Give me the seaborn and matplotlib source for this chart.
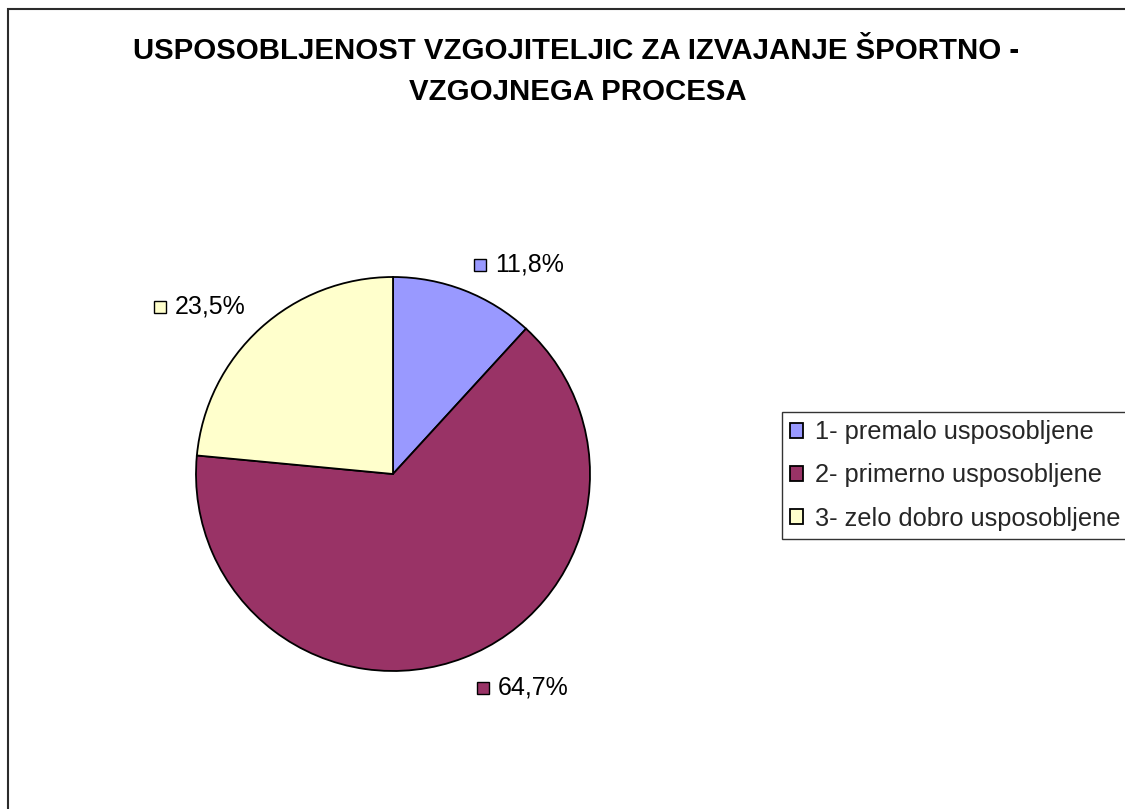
import matplotlib
matplotlib.use("Agg")
import matplotlib.pyplot as plt
import matplotlib.transforms as mtransforms
from matplotlib.patches import Rectangle
import seaborn as sns

# ---- data ----
categories = ["1- premalo usposobljene", "2- primerno usposobljene", "3- zelo dobro usposobljene"]
values = [11.8, 64.7, 23.5]
colors = ["#9999FF", "#993366", "#FFFFCC"]
title_lines = ["USPOSOBLJENOST VZGOJITELJIC ZA IZVAJANJE ŠPORTNO -", "VZGOJNEGA PROCESA"]

sns.set_theme(style="white")
plt.rcParams["font.family"] = ["Liberation Sans", "DejaVu Sans"]

W, H = 1125, 809
fig = plt.figure(figsize=(W / 100, H / 100), dpi=100)
fig.patch.set_facecolor("white")

# outer chart-area frame (cropped at right and bottom)
fig.add_artist(Rectangle((8 / W, -0.1), 1.2, (H - 9) / H + 0.1, transform=fig.transFigure,
                         fill=False, edgecolor="#2b2b2b", linewidth=1.5))

# title
fig.text(576 / W, 1 - 51 / H, title_lines[0], ha="center", va="center",
         fontsize=21.2, fontweight="bold", color="black")
fig.text(578 / W, 1 - 92 / H, title_lines[1], ha="center", va="center",
         fontsize=21.2, fontweight="bold", color="black")

# pie axes: centre (393, 474) px, radius 197 px
cx, cy, r = 393, 474, 197
ax = fig.add_axes([(cx - r) / W, (H - cy - r) / H, 2 * r / W, 2 * r / H])
wedges, _ = ax.pie(values, colors=colors, startangle=90, counterclock=False,
                   wedgeprops=dict(edgecolor="black", linewidth=1.3))
ax.set_xlim(-1, 1)
ax.set_ylim(-1, 1)
ax.set_axis_off()

# data labels (left edge of text, in pie-radius units)
label_pos = [(0.518, 1.061), (0.533, -1.086), (-1.107, 0.848)]
marker_offset = mtransforms.offset_copy(ax.transData, fig=fig, x=-15, y=0, units="dots")
for v, c, (lx, ly) in zip(values, colors, label_pos):
    txt = f"{v:.1f}%".replace(".", ",")
    ax.text(lx, ly, txt, ha="left", va="center", fontsize=18, color="black", clip_on=False)
    ax.plot([lx], [ly], marker="s", markersize=8.8, markerfacecolor=c,
            markeredgecolor="black", markeredgewidth=1.0, linestyle="none",
            transform=marker_offset, clip_on=False)

# legend
leg = fig.legend(wedges, categories, loc="upper left",
                 bbox_to_anchor=(782 / W, 1 - 412 / H), bbox_transform=fig.transFigure,
                 borderaxespad=0, fontsize=18.3, frameon=True, fancybox=False,
                 handlelength=0.5, handleheight=0.5, handletextpad=0.45,
                 borderpad=0.33, labelspacing=0.75)
frame = leg.get_frame()
frame.set_edgecolor("#333333")
frame.set_linewidth(1.0)
frame.set_alpha(1)

fig.savefig("out.png", dpi=100, facecolor="white")
